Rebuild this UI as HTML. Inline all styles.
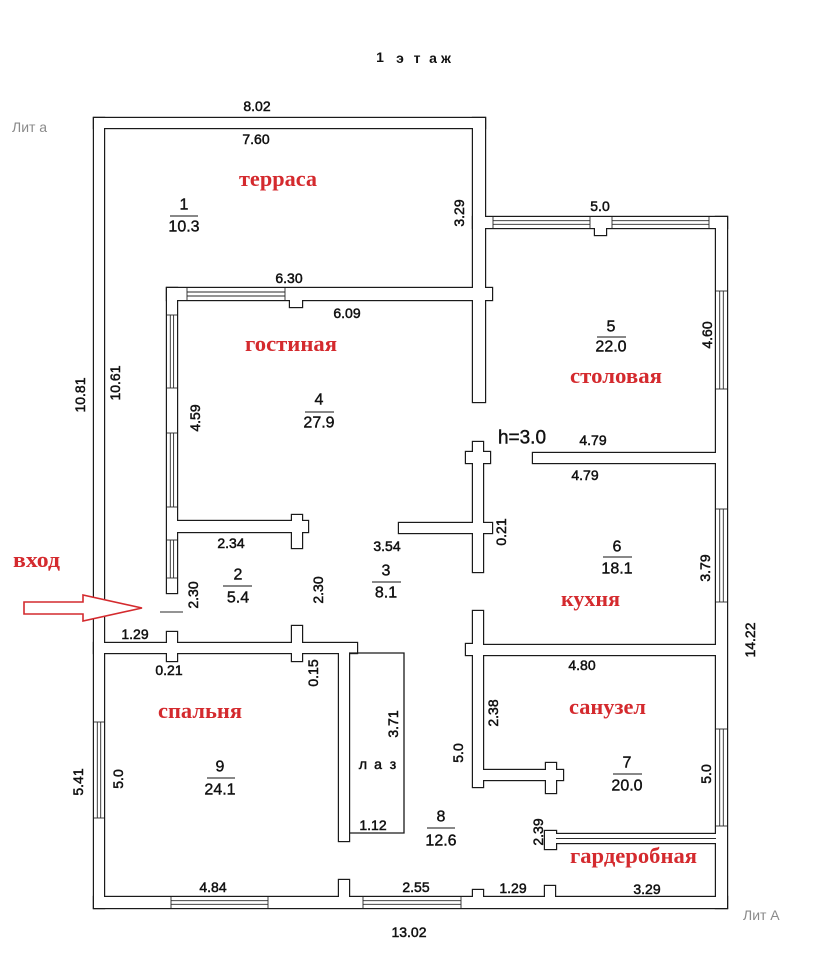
<!DOCTYPE html>
<html><head><meta charset="utf-8">
<style>
html,body{margin:0;padding:0;background:#fff;}
svg{display:block;}
.n{font-family:"Liberation Sans",Arial,sans-serif;font-size:14px;fill:#111;stroke:#111;stroke-width:0.5;text-anchor:middle;dominant-baseline:central;}
.r{font-family:"Liberation Sans",Arial,sans-serif;font-size:16px;fill:#111;stroke:#111;stroke-width:0.4;text-anchor:middle;dominant-baseline:central;}
.red{font-family:"Liberation Serif","DejaVu Serif",serif;font-weight:bold;font-size:22px;fill:#d42a2e;}
.g{font-family:"Liberation Sans",Arial,sans-serif;font-size:14px;fill:#8a8a8a;dominant-baseline:central;}
.t{font-family:"Liberation Sans",Arial,sans-serif;font-size:14px;font-weight:bold;fill:#111;text-anchor:middle;dominant-baseline:central;}
</style></head>
<body>
<svg width="823" height="960" viewBox="0 0 823 960" xmlns="http://www.w3.org/2000/svg">
<rect width="823" height="960" fill="#fff"/>

<!-- wall outlines pass -->
<g fill="#fff" stroke="#1a1a1a" stroke-width="2.4">
<rect x="94" y="118" width="391" height="10"/>
<rect x="94" y="118" width="10" height="790"/>
<rect x="473" y="118" width="12" height="284"/>
<rect x="485" y="288" width="7" height="12"/>
<rect x="473" y="217" width="254" height="11"/>
<rect x="595" y="228" width="11" height="7"/>
<rect x="716" y="217" width="11" height="691"/>
<rect x="533" y="453" width="183" height="10"/>
<rect x="167" y="288" width="306" height="12"/>
<rect x="290" y="300" width="12" height="7"/>
<rect x="167" y="288" width="10" height="305"/>
<rect x="167" y="632" width="10" height="11"/>
<rect x="177" y="521" width="115" height="11"/>
<rect x="292" y="515" width="10" height="33"/>
<rect x="302" y="521" width="6" height="11"/>
<rect x="94" y="643" width="263" height="10"/>
<rect x="292" y="626" width="10" height="35"/>
<rect x="167" y="653" width="10" height="8"/>
<rect x="339" y="653" width="10" height="188"/>
<rect x="473" y="442" width="10" height="130"/>
<rect x="466" y="452" width="24" height="11"/>
<rect x="399" y="523" width="93" height="10"/>
<rect x="473" y="611" width="10" height="176"/>
<rect x="466" y="644" width="7" height="11"/>
<rect x="483" y="645" width="233" height="10"/>
<rect x="483" y="770" width="63" height="10"/>
<rect x="546" y="763" width="10" height="30"/>
<rect x="556" y="770" width="7" height="10"/>
<rect x="545" y="831" width="11" height="18"/>
<rect x="556" y="834" width="160" height="9"/>
<rect x="94" y="897" width="633" height="11"/>
<rect x="339" y="880" width="10" height="17"/>
<rect x="473" y="890" width="10" height="7"/>
<rect x="545" y="886" width="10" height="11"/>
</g>
<!-- fill pass (erases internal junction lines) -->
<g fill="#fff" stroke="none">
<rect x="94" y="118" width="391" height="10"/>
<rect x="94" y="118" width="10" height="790"/>
<rect x="473" y="118" width="12" height="284"/>
<rect x="485" y="288" width="7" height="12"/>
<rect x="473" y="217" width="254" height="11"/>
<rect x="595" y="228" width="11" height="7"/>
<rect x="716" y="217" width="11" height="691"/>
<rect x="533" y="453" width="183" height="10"/>
<rect x="167" y="288" width="306" height="12"/>
<rect x="290" y="300" width="12" height="7"/>
<rect x="167" y="288" width="10" height="305"/>
<rect x="167" y="632" width="10" height="11"/>
<rect x="177" y="521" width="115" height="11"/>
<rect x="292" y="515" width="10" height="33"/>
<rect x="302" y="521" width="6" height="11"/>
<rect x="94" y="643" width="263" height="10"/>
<rect x="292" y="626" width="10" height="35"/>
<rect x="167" y="653" width="10" height="8"/>
<rect x="339" y="653" width="10" height="188"/>
<rect x="473" y="442" width="10" height="130"/>
<rect x="466" y="452" width="24" height="11"/>
<rect x="399" y="523" width="93" height="10"/>
<rect x="473" y="611" width="10" height="176"/>
<rect x="466" y="644" width="7" height="11"/>
<rect x="483" y="645" width="233" height="10"/>
<rect x="483" y="770" width="63" height="10"/>
<rect x="546" y="763" width="10" height="30"/>
<rect x="556" y="770" width="7" height="10"/>
<rect x="545" y="831" width="11" height="18"/>
<rect x="556" y="834" width="160" height="9"/>
<rect x="94" y="897" width="633" height="11"/>
<rect x="339" y="880" width="10" height="17"/>
<rect x="473" y="890" width="10" height="7"/>
<rect x="545" y="886" width="10" height="11"/>
</g>

<!-- windows -->
<g stroke="#2a2a2a" stroke-width="0.9" fill="none">
<line x1="187" y1="292" x2="285" y2="292"/><line x1="187" y1="296" x2="285" y2="296"/>
<line x1="187" y1="288" x2="187" y2="300"/><line x1="285" y1="288" x2="285" y2="300"/>
<line x1="170.3" y1="315" x2="170.3" y2="388"/><line x1="173.6" y1="315" x2="173.6" y2="388"/>
<line x1="167" y1="315" x2="177" y2="315"/><line x1="167" y1="388" x2="177" y2="388"/>
<line x1="170.3" y1="433" x2="170.3" y2="507"/><line x1="173.6" y1="433" x2="173.6" y2="507"/>
<line x1="167" y1="433" x2="177" y2="433"/><line x1="167" y1="507" x2="177" y2="507"/>
<line x1="170.3" y1="540" x2="170.3" y2="578"/><line x1="173.6" y1="540" x2="173.6" y2="578"/>
<line x1="167" y1="540" x2="177" y2="540"/><line x1="167" y1="578" x2="177" y2="578"/>
<line x1="493" y1="220.7" x2="590" y2="220.7"/><line x1="493" y1="224.3" x2="590" y2="224.3"/>
<line x1="493" y1="217" x2="493" y2="228"/><line x1="590" y1="217" x2="590" y2="228"/>
<line x1="612" y1="220.7" x2="709" y2="220.7"/><line x1="612" y1="224.3" x2="709" y2="224.3"/>
<line x1="612" y1="217" x2="612" y2="228"/><line x1="709" y1="217" x2="709" y2="228"/>
<line x1="719.7" y1="291" x2="719.7" y2="389"/><line x1="723.3" y1="291" x2="723.3" y2="389"/>
<line x1="716" y1="291" x2="727" y2="291"/><line x1="716" y1="389" x2="727" y2="389"/>
<line x1="719.7" y1="509" x2="719.7" y2="602"/><line x1="723.3" y1="509" x2="723.3" y2="602"/>
<line x1="716" y1="509" x2="727" y2="509"/><line x1="716" y1="602" x2="727" y2="602"/>
<line x1="719.7" y1="729" x2="719.7" y2="826"/><line x1="723.3" y1="729" x2="723.3" y2="826"/>
<line x1="716" y1="729" x2="727" y2="729"/><line x1="716" y1="826" x2="727" y2="826"/>
<line x1="97.3" y1="722" x2="97.3" y2="818"/><line x1="100.7" y1="722" x2="100.7" y2="818"/>
<line x1="94" y1="722" x2="104" y2="722"/><line x1="94" y1="818" x2="104" y2="818"/>
<line x1="171" y1="900.7" x2="268" y2="900.7"/><line x1="171" y1="904.3" x2="268" y2="904.3"/>
<line x1="171" y1="897" x2="171" y2="908"/><line x1="268" y1="897" x2="268" y2="908"/>
<line x1="363" y1="900.7" x2="461" y2="900.7"/><line x1="363" y1="904.3" x2="461" y2="904.3"/>
<line x1="363" y1="897" x2="363" y2="908"/><line x1="461" y1="897" x2="461" y2="908"/>
<line x1="556" y1="838.5" x2="716" y2="838.5"/>
<line x1="160" y1="612" x2="183" y2="612"/>
</g>
<polyline points="349,653 404,653 404,833 349,833" fill="none" stroke="#1a1a1a" stroke-width="1.3"/>

<polygon points="24,602 83,602 83,595 142,608 83,621 83,614 24,614" fill="#fff" stroke="#d42a2e" stroke-width="1.6"/>

<text class="t" x="380" y="57">1</text>
<text class="t" x="400" y="58">э</text>
<text class="t" x="417" y="58">т</text>
<text class="t" x="433" y="58">а</text>
<text class="t" x="446" y="58">ж</text>
<text class="g" x="12" y="127">Лит а</text>
<text class="g" x="743" y="915">Лит А</text>

<text class="red" x="239" y="186" textLength="78" lengthAdjust="spacingAndGlyphs">терраса</text>
<text class="red" x="245" y="351" textLength="92" lengthAdjust="spacingAndGlyphs">гостиная</text>
<text class="red" x="570" y="383" textLength="92" lengthAdjust="spacingAndGlyphs">столовая</text>
<text class="red" x="561" y="606" textLength="59" lengthAdjust="spacingAndGlyphs">кухня</text>
<text class="red" x="569" y="714" textLength="77" lengthAdjust="spacingAndGlyphs">санузел</text>
<text class="red" x="158" y="718" textLength="84" lengthAdjust="spacingAndGlyphs">спальня</text>
<text class="red" x="570" y="863" textLength="127" lengthAdjust="spacingAndGlyphs">гардеробная</text>
<text class="red" x="13" y="567" textLength="47" lengthAdjust="spacingAndGlyphs">вход</text>

<g stroke="#111" stroke-width="1">
<line x1="170" y1="216" x2="198" y2="216"/>
<line x1="305" y1="412" x2="334" y2="412"/>
<line x1="223" y1="586" x2="252" y2="586"/>
<line x1="597" y1="337" x2="626" y2="337"/>
<line x1="372" y1="582" x2="401" y2="582"/>
<line x1="603" y1="557" x2="632" y2="557"/>
<line x1="613" y1="774" x2="642" y2="774"/>
<line x1="427" y1="828" x2="455" y2="828"/>
<line x1="207" y1="778" x2="235" y2="778"/>
</g>
<text class="r" x="184" y="205">1</text><text class="r" x="184" y="227">10.3</text>
<text class="r" x="319" y="400">4</text><text class="r" x="319" y="423">27.9</text>
<text class="r" x="238" y="575">2</text><text class="r" x="238" y="598">5.4</text>
<text class="r" x="611" y="327">5</text><text class="r" x="611" y="347">22.0</text>
<text class="r" x="386" y="571">3</text><text class="r" x="386" y="593">8.1</text>
<text class="r" x="617" y="547">6</text><text class="r" x="617" y="569">18.1</text>
<text class="r" x="627" y="763">7</text><text class="r" x="627" y="786">20.0</text>
<text class="r" x="441" y="817">8</text><text class="r" x="441" y="841">12.6</text>
<text class="r" x="220" y="767">9</text><text class="r" x="220" y="790">24.1</text>
<text class="r" x="522" y="438" style="font-size:19px">h=3.0</text>

<text class="n" x="257" y="106">8.02</text>
<text class="n" x="256" y="139">7.60</text>
<text class="n" x="289" y="278">6.30</text>
<text class="n" x="347" y="313">6.09</text>
<text class="n" x="231" y="543">2.34</text>
<text class="n" x="135" y="634">1.29</text>
<text class="n" x="169" y="670">0.21</text>
<text class="n" x="600" y="206">5.0</text>
<text class="n" x="593" y="440">4.79</text>
<text class="n" x="585" y="475">4.79</text>
<text class="n" x="387" y="546">3.54</text>
<text class="n" x="582" y="665">4.80</text>
<text class="n" x="513" y="888">1.29</text>
<text class="n" x="647" y="889">3.29</text>
<text class="n" x="416" y="887">2.55</text>
<text class="n" x="409" y="932">13.02</text>
<text class="n" x="213" y="887">4.84</text>
<text class="n" x="373" y="825">1.12</text>
<text class="n" x="363" y="764">л</text>
<text class="n" x="378" y="764">а</text>
<text class="n" x="393" y="764">з</text>

<text class="n" x="459" y="213" transform="rotate(-90 459 213)">3.29</text>
<text class="n" x="195" y="418" transform="rotate(-90 195 418)">4.59</text>
<text class="n" x="80" y="395" transform="rotate(-90 80 395)">10.81</text>
<text class="n" x="115" y="383" transform="rotate(-90 115 383)">10.61</text>
<text class="n" x="193" y="595" transform="rotate(-90 193 595)">2.30</text>
<text class="n" x="318" y="590" transform="rotate(-90 318 590)">2.30</text>
<text class="n" x="707" y="335" transform="rotate(-90 707 335)">4.60</text>
<text class="n" x="501" y="532" transform="rotate(-90 501 532)">0.21</text>
<text class="n" x="705" y="568" transform="rotate(-90 705 568)">3.79</text>
<text class="n" x="750" y="640" transform="rotate(-90 750 640)">14.22</text>
<text class="n" x="493" y="713" transform="rotate(-90 493 713)">2.38</text>
<text class="n" x="458" y="753" transform="rotate(-90 458 753)">5.0</text>
<text class="n" x="706" y="774" transform="rotate(-90 706 774)">5.0</text>
<text class="n" x="538" y="832" transform="rotate(-90 538 832)">2.39</text>
<text class="n" x="78" y="782" transform="rotate(-90 78 782)">5.41</text>
<text class="n" x="118" y="779" transform="rotate(-90 118 779)">5.0</text>
<text class="n" x="313" y="673" transform="rotate(-90 313 673)">0.15</text>
<text class="n" x="393" y="724" transform="rotate(-90 393 724)">3.71</text>
</svg>
</body></html>
